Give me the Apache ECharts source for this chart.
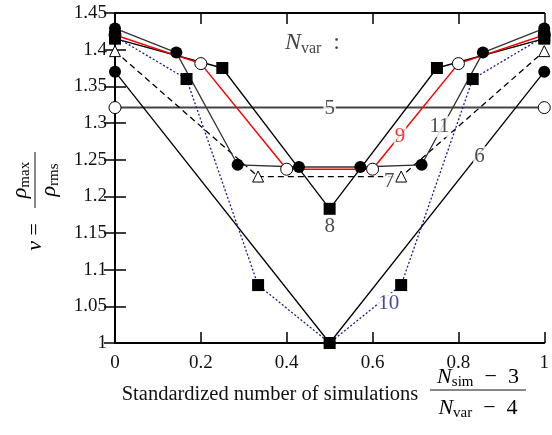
<!DOCTYPE html>
<html>
<head>
<meta charset="utf-8">
<script src="https://cdn.jsdelivr.net/npm/echarts@6/dist/echarts.min.js"></script>
<style>
  html, body { margin: 0; padding: 0; background: #fff; }
  #main { width: 552px; height: 435px; }
</style>
</head>
<body>
<div id="main"></div>
<script>
// standardized number of simulations (N_sim - 3) / (N_var - 4), one list per N_var
const x5 = [0, 1];
const x6 = [0, 1 / 2, 1];
const x7 = [0, 1 / 3, 2 / 3, 1];
const x8 = [0, 1 / 4, 2 / 4, 3 / 4, 1];
const x9 = [0, 1 / 5, 2 / 5, 3 / 5, 4 / 5, 1];
const x10 = [0, 1 / 6, 2 / 6, 3 / 6, 4 / 6, 5 / 6, 1];
const x11 = [0, 1 / 7, 2 / 7, 3 / 7, 4 / 7, 5 / 7, 6 / 7, 1];

// nu = rho_max / rho_rms
const v5 = [1.321, 1.321];
const v6 = [1.37, 1.0, 1.37];
const v7 = [1.398, 1.227, 1.227, 1.398];
const v8 = [1.415, 1.375, 1.183, 1.375, 1.415];
const v9 = [1.42, 1.381, 1.237, 1.237, 1.381, 1.42];
const v10 = [1.418, 1.36, 1.079, 1.0, 1.079, 1.36, 1.418];
const v11 = [1.429, 1.396, 1.243, 1.24, 1.24, 1.243, 1.396, 1.429];

// curve labels (N_var) and where they sit
const labelText = ['5', '6', '7', '8', '9', '10', '11'];
const labelX = [0.5, 0.849, 0.639, 0.5, 0.664, 0.638, 0.756];
const labelY = [1.32, 1.254, 1.22, 1.159, 1.281, 1.054, 1.295];
const labelColor = ['#222', '#222', '#222', '#222', '#ff0000', '#1a1a8c', '#222'];

const yMin = 1, yMax = 1.45, yStep = 0.05;

const serif = 'Liberation Serif';

function pairs(xs, ys) {
  return xs.map((x, i) => [x, ys[i]]);
}

function curve(name, xs, ys, symbol, filled, line) {
  return {
    name: name,
    type: 'line',
    data: pairs(xs, ys),
    symbol: symbol,
    symbolSize: symbol === 'triangle' ? 11 : 12,
    showSymbol: true,
    lineStyle: line,
    itemStyle: filled
      ? { color: '#000', borderColor: '#000', borderWidth: 0 }
      : { color: '#fff', borderColor: '#000', borderWidth: 1 },
    emphasis: { disabled: true },
    z: 2
  };
}

const subRich = {
  n: { fontFamily: serif, fontStyle: 'italic', fontSize: 22, color: '#111' },
  s: { fontFamily: serif, fontSize: 15, color: '#111', padding: [11, 0, 0, 0] },
  t: { fontFamily: serif, fontSize: 22, color: '#111' }
};

function axisCommon() {
  return {
    axisLine: { lineStyle: { color: '#000', width: 2 } },
    axisTick: { inside: true, length: 11, lineStyle: { color: '#000', width: 1.5 } },
    splitLine: { show: false }
  };
}

function getOption() {
  const labelData = labelText.map((t, i) => ({
    value: [labelX[i], labelY[i]],
    label: { formatter: t, color: labelColor[i] }
  }));

  return {
    animation: false,
    backgroundColor: '#fff',
    grid: { left: 115, right: 5, top: 13, bottom: 92 },
    xAxis: [Object.assign({
      type: 'value', min: 0, max: 1, interval: 0.2,
      axisLabel: { fontFamily: serif, fontSize: 19, color: '#111', margin: 11 }
    }, axisCommon()), Object.assign({
      type: 'value', min: 0, max: 1, interval: 0.2, position: 'top',
      axisLabel: { show: false }
    }, axisCommon())],
    yAxis: [Object.assign({
      type: 'value', min: yMin, max: yMax, interval: yStep,
      axisLabel: { fontFamily: serif, fontSize: 19, color: '#111', margin: 8 }
    }, axisCommon()), Object.assign({
      type: 'value', min: yMin, max: yMax, interval: yStep, position: 'right',
      axisLabel: { show: false }
    }, axisCommon())],
    series: [
      curve('5', x5, v5, 'circle', false, { color: '#444', width: 2 }),
      curve('6', x6, v6, 'circle', true, { color: '#000', width: 1.3 }),
      curve('7', x7, v7, 'triangle', false, { color: '#000', width: 1.3, type: [6, 4] }),
      curve('8', x8, v8, 'rect', true, { color: '#000', width: 1.3 }),
      curve('9', x9, v9, 'circle', false, { color: '#ff0000', width: 1.5 }),
      curve('10', x10, v10, 'rect', true, { color: '#1a1a9c', width: 1.3, type: [2, 2] }),
      curve('11', x11, v11, 'circle', true, { color: '#333', width: 1.3 }),
      {
        name: 'labels',
        type: 'scatter',
        symbolSize: 0,
        data: labelData,
        label: {
          show: true, position: 'inside',
          fontFamily: serif, fontSize: 21,
          backgroundColor: '#fff', padding: [0, 1]
        },
        emphasis: { disabled: true },
        z: 5
      },
      {
        name: 'header',
        type: 'scatter',
        symbolSize: 0,
        data: [[0.46, 1.41]],
        label: {
          show: true, position: 'inside',
          formatter: '{n|N}{s|var}{t|  :}',
          rich: {
            n: { fontFamily: serif, fontStyle: 'italic', fontSize: 24, color: '#111' },
            s: { fontFamily: serif, fontSize: 16, color: '#111', padding: [12, 0, 0, 0] },
            t: { fontFamily: serif, fontSize: 24, color: '#111' }
          }
        },
        emphasis: { disabled: true },
        z: 5
      }
    ],
    graphic: [
      {
        type: 'text',
        style: {
          text: 'Standardized number of simulations',
          x: 270, y: 395, align: 'center', verticalAlign: 'middle',
          font: '20.5px "Liberation Serif"', fill: '#111'
        }
      },
      {
        type: 'text',
        style: {
          text: '{n|N}{s|sim}{t|  −  3}',
          x: 478, y: 377, align: 'center', verticalAlign: 'middle',
          rich: subRich
        }
      },
      {
        type: 'line',
        shape: { x1: 430, y1: 390, x2: 526, y2: 390 },
        style: { stroke: '#111', lineWidth: 1 }
      },
      {
        type: 'text',
        style: {
          text: '{n|N}{s|var}{t|  −  4}',
          x: 478, y: 408, align: 'center', verticalAlign: 'middle',
          rich: subRich
        }
      },
      {
        // rotated y axis title
        type: 'group',
        x: 35, y: 200, rotation: Math.PI / 2,
        children: [
          {
            type: 'text',
            style: {
              text: '{n|ν}{t| =}',
              x: -37, y: 0, align: 'center', verticalAlign: 'middle',
              rich: subRich
            }
          },
          {
            type: 'line',
            shape: { x1: -8, y1: 0, x2: 48, y2: 0 },
            style: { stroke: '#111', lineWidth: 1 }
          },
          {
            type: 'text',
            style: {
              text: '{n|ρ}{s|max}',
              x: 20, y: -15, align: 'center', verticalAlign: 'middle',
              rich: subRich
            }
          },
          {
            type: 'text',
            style: {
              text: '{n|ρ}{s|rms}',
              x: 20, y: 14, align: 'center', verticalAlign: 'middle',
              rich: subRich
            }
          }
        ]
      }
    ]
  };
}

function initChart() {
  const chart = echarts.init(document.getElementById('main'), null, { renderer: 'canvas' });
  chart.setOption(getOption());
  return chart;
}

initChart();
</script>
</body>
</html>
